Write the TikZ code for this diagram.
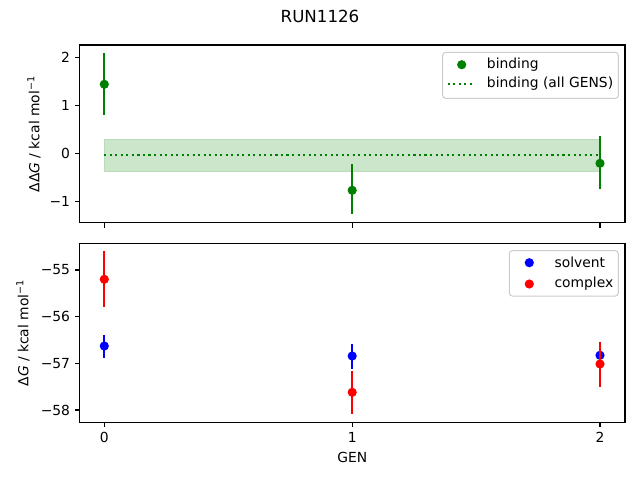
\documentclass[tikz,border=0pt]{standalone}
\usepackage{fontspec}
\setmainfont{DejaVu Sans}
\begin{document}
\begin{tikzpicture}[x=0.75pt,y=-0.75pt,
  lbl/.style={inner sep=0pt,font=\fontsize{10.4}{12}\selectfont},
  ytl/.style={lbl,anchor=east},
  xtl/.style={lbl,anchor=north},
  spine/.style={line width=0.83pt,black},
  tickm/.style={line width=0.83pt,black},
  ebar/.style={line width=1.56pt},
  legbox/.style={draw=black!20,fill=white,fill opacity=0.8,line width=0.75pt,rounded corners=2.2pt},
  dotline/.style={line width=1.56pt,dash pattern=on 1.56pt off 2.58pt},
  mk/.style={radius=3.45pt}
]
\definecolor{mplgreen}{RGB}{0,128,0}
\definecolor{mplblue}{RGB}{0,0,255}
\definecolor{mplred}{RGB}{255,0,0}
\definecolor{bandgreen}{RGB}{204,230,204}
\useasboundingbox (0,0) rectangle (640,480);
\fill[white] (0,0) rectangle (640,480);

% title
\node[font=\fontsize{12.5}{14}\selectfont,inner sep=0pt] (title) at (320,16.5) {RUN1126};

% ===== top axes =====
\fill[bandgreen] (104.3,139) rectangle (600,171.7);
\draw[bandgreen!90!mplgreen,line width=0.75pt] (104.3,139) rectangle (600,171.7);
\draw[dotline,mplgreen] (104.3,155) -- (600,155);
% error bars
\draw[ebar,mplgreen] (104.3,53.3) -- (104.3,114.7);
\draw[ebar,mplgreen] (352.2,164.3) -- (352.2,214.3);
\draw[ebar,mplgreen] (600,136) -- (600,188.7);
\fill[mplgreen] (104.3,84.3) circle[mk];
\fill[mplgreen] (352.2,190.3) circle[mk];
\fill[mplgreen] (600,163.3) circle[mk];
% spines
\draw[spine] (79.5,45) rectangle (625,222.7);
% y ticks
\foreach \yy/\tl in {57.3/2,105.3/1,153.3/0,201.3/{−1}} {
  \draw[tickm] (79.5,\yy) -- (74.6,\yy);
  \node[ytl] at (70.3,\yy) {\tl};
}
% x ticks (no labels)
\foreach \xx in {104.3,352.2,600} {
  \draw[tickm] (\xx,222.7) -- (\xx,227.6);
}
\node[lbl,rotate=90] (ylab1) at (34,134) {ΔΔ\textit{G} / kcal mol\textsuperscript{−1}};
% legend top
\draw[legbox] (442.7,52.3) rectangle (618.3,98.3);
\fill[mplgreen] (461.7,64.7) circle[mk];
\node[lbl,anchor=west] (leg1) at (486.7,64.7) {binding};
\draw[dotline,mplgreen] (447.7,84) -- (475,84);
\node[lbl,anchor=west] (leg2) at (486.7,84) {binding (all GENS)};

% ===== bottom axes =====
% solvent
\draw[ebar,mplblue] (104.3,335) -- (104.3,357.7);
\draw[ebar,mplblue] (352.2,344) -- (352.2,368.7);
\draw[ebar,mplblue] (600,344) -- (600,367);
\fill[mplblue] (104.3,346) circle[mk];
\fill[mplblue] (352.2,356) circle[mk];
\fill[mplblue] (600,355.3) circle[mk];
% complex
\draw[ebar,mplred] (104.3,251) -- (104.3,306.7);
\draw[ebar,mplred] (352.2,371) -- (352.2,413.7);
\draw[ebar,mplred] (600,342.3) -- (600,386.7);
\fill[mplred] (104.3,279.3) circle[mk];
\fill[mplred] (352.2,392.3) circle[mk];
\fill[mplred] (600,364) circle[mk];
% spines
\draw[spine] (79.5,243.3) rectangle (625,422.3);
\foreach \yy/\tl in {270/{−55},316.7/{−56},363.3/{−57},410/{−58}} {
  \draw[tickm] (79.5,\yy) -- (74.6,\yy);
  \node[ytl] at (70.3,\yy) {\tl};
}
\foreach \xx/\tl in {104.3/0,352.2/1,600/2} {
  \draw[tickm] (\xx,422.3) -- (\xx,427.2);
  \node[xtl] at (\xx,432) {\tl};
}
\node[lbl] (xlab) at (352.2,457) {GEN};
\node[lbl,rotate=90] (ylab2) at (23,333) {Δ\textit{G} / kcal mol\textsuperscript{−1}};
% legend bottom
\draw[legbox] (509.3,250.7) rectangle (618.3,296);
\fill[mplblue] (529.3,262.7) circle[mk];
\node[lbl,anchor=west] (leg3) at (554.3,262.7) {solvent};
\fill[mplred] (529.3,284) circle[mk];
\node[lbl,anchor=west] (leg4) at (554.3,284) {complex};
\end{tikzpicture}
\end{document}
